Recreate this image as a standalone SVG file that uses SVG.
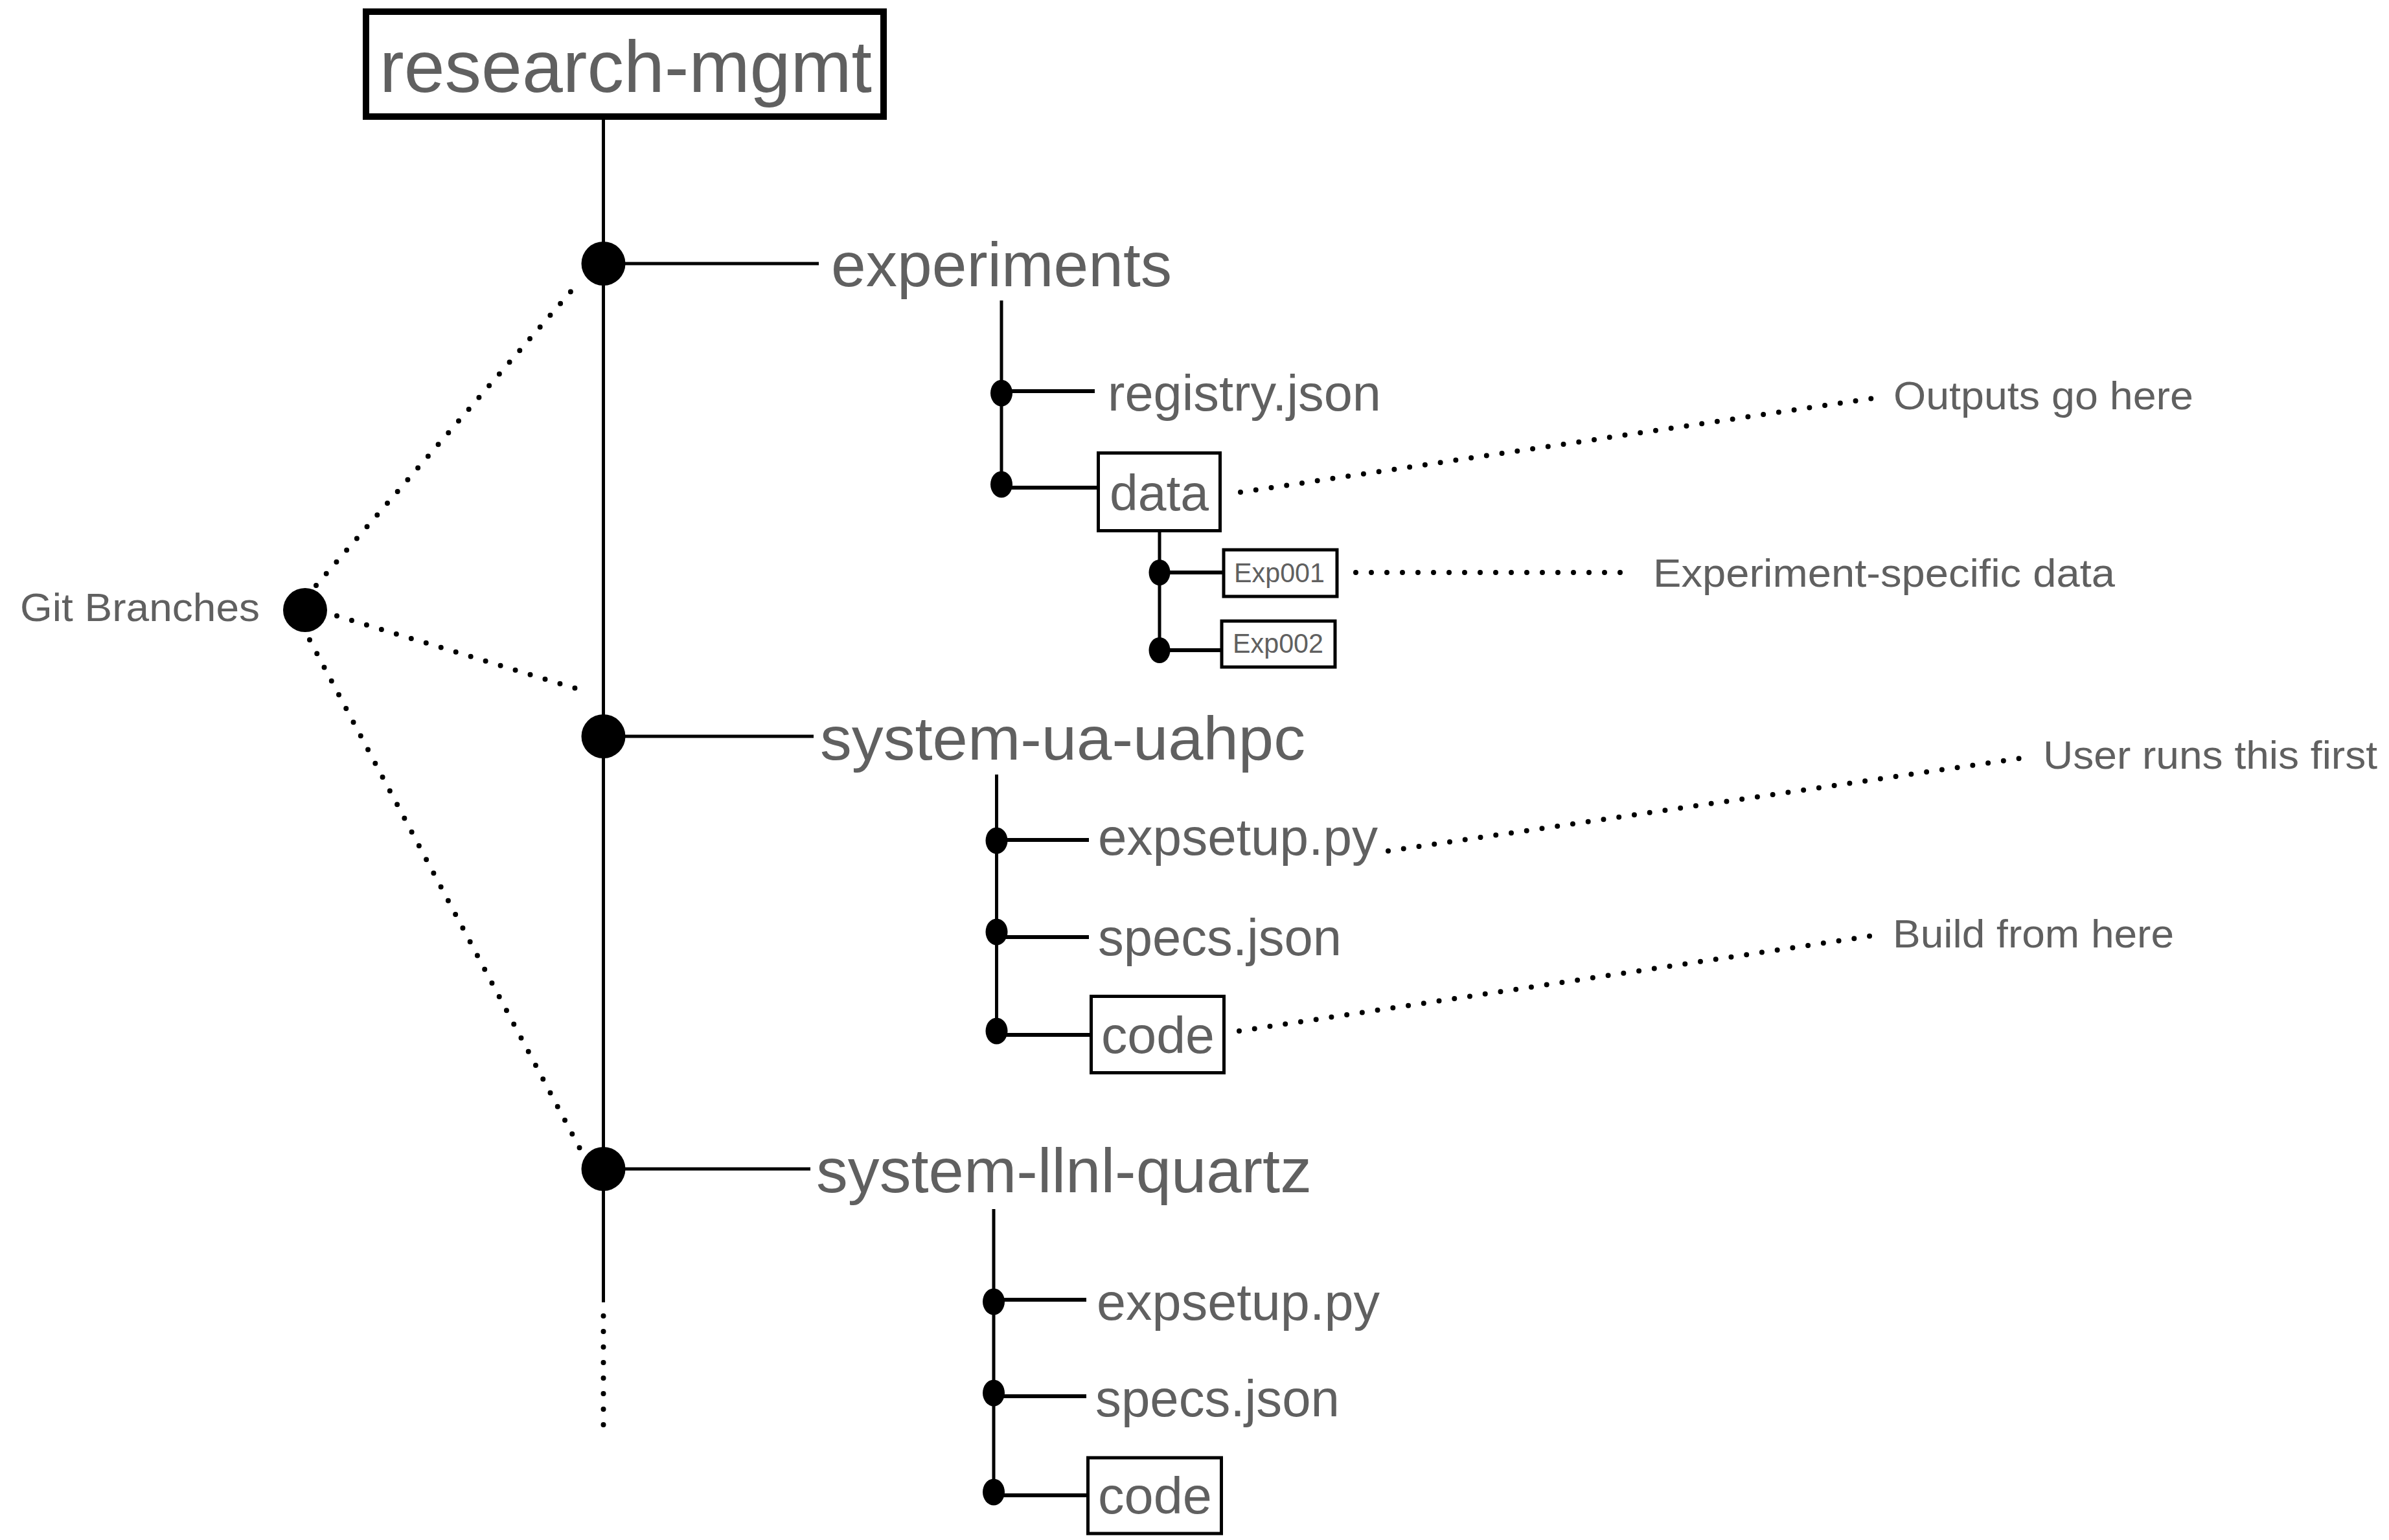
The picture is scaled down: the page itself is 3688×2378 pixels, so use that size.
<svg xmlns="http://www.w3.org/2000/svg" width="3688" height="2378" viewBox="0 0 3688 2378">
<style>
  text { font-family: "Liberation Sans", Arial, sans-serif; fill: #606060; }
  .ln { stroke: #000; stroke-width: 5; fill: none; }
  .hl { stroke: #000; stroke-width: 6; fill: none; }
  .dot { stroke: #000; stroke-width: 8; stroke-linecap: round; stroke-dasharray: 0 24; fill: none; }
  .box { fill: #fff; stroke: #000; stroke-width: 5; }
  .big { fill: #000; }
  .sm { fill: #000; }
</style>
<rect width="3688" height="2378" fill="#fff"/>

<g id="connectors">
  <!-- main trunk -->
  <line class="ln" x1="931.5" y1="185" x2="931.5" y2="2011"/>
  <line class="dot" x1="931.5" y1="2032" x2="931.5" y2="2203"/>
  <!-- branch lines -->
  <line class="ln" x1="931.5" y1="407" x2="1264" y2="407"/>
  <line class="ln" x1="931.5" y1="1137" x2="1256" y2="1137"/>
  <line class="ln" x1="931.5" y1="1805" x2="1251" y2="1805"/>
  <!-- experiments subtree -->
  <line class="ln" x1="1546" y1="464" x2="1546" y2="748"/>
  <line class="hl" x1="1546" y1="604" x2="1690" y2="604"/>
  <line class="hl" x1="1546" y1="753" x2="1693" y2="753"/>
  <line class="ln" x1="1790" y1="822" x2="1790" y2="1004"/>
  <line class="hl" x1="1790" y1="884" x2="1889" y2="884"/>
  <line class="hl" x1="1790" y1="1004" x2="1886" y2="1004"/>
  <!-- system-ua-uahpc subtree -->
  <line class="ln" x1="1538.5" y1="1196" x2="1538.5" y2="1592"/>
  <line class="hl" x1="1538.5" y1="1297" x2="1681" y2="1297"/>
  <line class="hl" x1="1538.5" y1="1447" x2="1681" y2="1447"/>
  <line class="hl" x1="1538.5" y1="1598" x2="1682" y2="1598"/>
  <!-- system-llnl-quartz subtree -->
  <line class="ln" x1="1534" y1="1867" x2="1534" y2="2304"/>
  <line class="hl" x1="1534" y1="2007" x2="1677" y2="2007"/>
  <line class="hl" x1="1534" y1="2156" x2="1677" y2="2156"/>
  <line class="hl" x1="1534" y1="2309" x2="1677" y2="2309"/>
  <!-- git branch pointers -->
  <line class="dot" x1="488" y1="904" x2="896" y2="433"/>
  <line class="dot" x1="520" y1="951" x2="892" y2="1064"/>
  <line class="dot" x1="478" y1="988" x2="896" y2="1775"/>
  <!-- annotation pointers -->
  <line class="dot" x1="1915" y1="760" x2="2891" y2="615"/>
  <line class="dot" x1="2093" y1="884" x2="2503" y2="884"/>
  <line class="dot" x1="2143" y1="1314" x2="3118" y2="1171"/>
  <line class="dot" x1="1913" y1="1592" x2="2890" y2="1445"/>
  <!-- junction dots -->
  <circle class="big" cx="931.5" cy="407" r="34"/>
  <circle class="big" cx="931.5" cy="1137" r="34"/>
  <circle class="big" cx="931.5" cy="1805" r="34"/>
  <ellipse class="sm" cx="1546" cy="607" rx="17" ry="20.5"/>
  <ellipse class="sm" cx="1546" cy="748" rx="17" ry="20.5"/>
  <ellipse class="sm" cx="1790" cy="884" rx="16.5" ry="20"/>
  <ellipse class="sm" cx="1790" cy="1004" rx="16.5" ry="20"/>
  <ellipse class="sm" cx="1538.5" cy="1298" rx="17" ry="20.5"/>
  <ellipse class="sm" cx="1538.5" cy="1439" rx="17" ry="20.5"/>
  <ellipse class="sm" cx="1538.5" cy="1592" rx="17" ry="20.5"/>
  <ellipse class="sm" cx="1534" cy="2010" rx="17" ry="20.5"/>
  <ellipse class="sm" cx="1534" cy="2151" rx="17" ry="20.5"/>
  <ellipse class="sm" cx="1534" cy="2304" rx="17" ry="20.5"/>
</g>

<g id="root">
  <rect x="565" y="18" width="799" height="162" fill="#fff" stroke="#000" stroke-width="10"/>
  <text x="586" y="142" font-size="113" textLength="760" lengthAdjust="spacingAndGlyphs">research-mgmt</text>
</g>

<g id="git-branches">
  <circle cx="471" cy="942" r="34" fill="#000"/>
  <text x="31" y="959" font-size="62" textLength="370" lengthAdjust="spacingAndGlyphs">Git Branches</text>
</g>

<g id="experiments">
  <text x="1283" y="442" font-size="96" textLength="526" lengthAdjust="spacingAndGlyphs">experiments</text>
</g>
<g id="registry-json">
  <text x="1710" y="634" font-size="78" textLength="422" lengthAdjust="spacingAndGlyphs">registry.json</text>
</g>
<g id="data">
  <rect class="box" x="1695.5" y="699.5" width="188" height="120"/>
  <text x="1713" y="788" font-size="78" textLength="153" lengthAdjust="spacingAndGlyphs">data</text>
</g>
<g id="exp001">
  <rect class="box" x="1889" y="849" width="175" height="72"/>
  <text x="1905" y="899" font-size="42" textLength="140" lengthAdjust="spacingAndGlyphs">Exp001</text>
</g>
<g id="exp002">
  <rect class="box" x="1886" y="959" width="175" height="71"/>
  <text x="1903" y="1008" font-size="42" textLength="140" lengthAdjust="spacingAndGlyphs">Exp002</text>
</g>
<g id="note-outputs">
  <text x="2923" y="632" font-size="62" textLength="463" lengthAdjust="spacingAndGlyphs">Outputs go here</text>
</g>
<g id="note-experiment">
  <text x="2552" y="906" font-size="62" textLength="713" lengthAdjust="spacingAndGlyphs">Experiment-specific data</text>
</g>

<g id="system-ua-uahpc">
  <text x="1266" y="1173" font-size="95" textLength="749" lengthAdjust="spacingAndGlyphs">system-ua-uahpc</text>
</g>
<g id="ua-expsetup">
  <text x="1695" y="1320" font-size="80" textLength="432" lengthAdjust="spacingAndGlyphs">expsetup.py</text>
</g>
<g id="ua-specs">
  <text x="1695" y="1475" font-size="80" textLength="376" lengthAdjust="spacingAndGlyphs">specs.json</text>
</g>
<g id="ua-code">
  <rect class="box" x="1684.5" y="1538.5" width="205" height="118"/>
  <text x="1700" y="1626" font-size="80" textLength="175" lengthAdjust="spacingAndGlyphs">code</text>
</g>
<g id="note-user">
  <text x="3154" y="1187" font-size="62" textLength="516" lengthAdjust="spacingAndGlyphs">User runs this first</text>
</g>
<g id="note-build">
  <text x="2922" y="1463" font-size="62" textLength="434" lengthAdjust="spacingAndGlyphs">Build from here</text>
</g>

<g id="system-llnl-quartz">
  <text x="1260" y="1841" font-size="96" textLength="765" lengthAdjust="spacingAndGlyphs">system-llnl-quartz</text>
</g>
<g id="llnl-expsetup">
  <text x="1693" y="2038" font-size="80" textLength="437" lengthAdjust="spacingAndGlyphs">expsetup.py</text>
</g>
<g id="llnl-specs">
  <text x="1691" y="2187" font-size="80" textLength="377" lengthAdjust="spacingAndGlyphs">specs.json</text>
</g>
<g id="llnl-code">
  <rect class="box" x="1679.5" y="2251" width="206" height="117"/>
  <text x="1695" y="2337" font-size="80" textLength="176" lengthAdjust="spacingAndGlyphs">code</text>
</g>
</svg>
